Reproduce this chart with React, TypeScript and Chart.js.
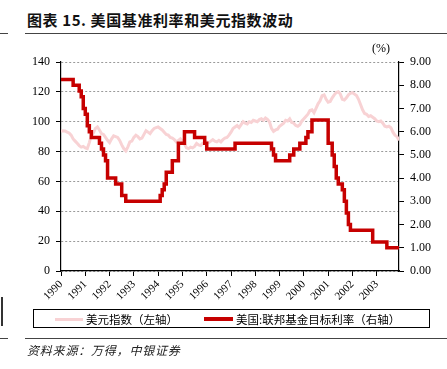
import React, { useEffect, useRef } from "react";
import { Chart, registerables } from "chart.js";

Chart.register(...registerables);

const YEARS = [1990, 1991, 1992, 1993, 1994, 1995, 1996, 1997, 1998, 1999, 2000, 2001, 2002, 2003];
const YEAR_LABELS = YEARS.map((y) => String(y));

// US Dollar Index, monthly, Jan 1990 .. Dec 2003 (left axis)
const DXY_1990 = [93.5, 94.0, 93.8, 93.0, 92.5, 91.0, 88.5, 87.0, 85.5, 84.0, 83.0, 83.5];
const DXY_1991 = [82.5, 82.0, 86.0, 91.0, 92.5, 95.5, 96.5, 94.5, 92.0, 91.5, 89.5, 87.5];
const DXY_1992 = [86.0, 88.5, 90.5, 90.0, 89.5, 87.5, 84.5, 82.0, 80.5, 83.0, 86.5, 87.0];
const DXY_1993 = [89.5, 91.0, 90.0, 88.5, 89.0, 91.5, 94.0, 93.0, 92.0, 94.0, 95.5, 96.0];
const DXY_1994 = [96.5, 95.5, 94.5, 93.0, 91.5, 91.0, 89.5, 89.0, 88.0, 86.5, 87.5, 88.5];
const DXY_1995 = [87.0, 85.0, 82.5, 82.0, 83.0, 82.5, 83.5, 85.5, 84.5, 84.0, 85.5, 86.0];
const DXY_1996 = [86.5, 86.0, 87.0, 88.0, 87.0, 86.5, 87.5, 86.5, 88.0, 89.0, 89.5, 91.0];
const DXY_1997 = [93.0, 95.5, 96.5, 97.5, 96.0, 98.0, 100.0, 99.0, 98.5, 100.0, 99.5, 101.0];
const DXY_1998 = [100.5, 100.0, 101.5, 102.0, 101.0, 102.5, 101.5, 100.0, 95.5, 93.5, 94.5, 95.0];
const DXY_1999 = [97.0, 98.0, 99.0, 101.0, 100.5, 102.0, 99.5, 99.0, 97.5, 97.0, 98.0, 100.5];
const DXY_2000 = [102.0, 103.5, 105.0, 107.5, 108.0, 106.0, 109.0, 112.0, 114.0, 117.5, 118.0, 115.0];
const DXY_2001 = [113.0, 113.5, 116.0, 118.0, 119.5, 120.0, 118.5, 115.0, 114.5, 116.0, 118.0, 119.0];
const DXY_2002 = [119.5, 118.5, 117.5, 115.0, 111.5, 108.0, 105.5, 105.0, 103.5, 104.0, 103.0, 102.0];
const DXY_2003 = [100.5, 100.0, 100.5, 99.0, 97.0, 96.5, 97.0, 96.0, 93.0, 91.0, 90.0, 87.5];

// Fed funds target rate, monthly (right axis, %)
const FED_1990 = [8.25, 8.25, 8.25, 8.25, 8.25, 8.25, 8.0, 8.0, 8.0, 7.75, 7.5, 7.0];
const FED_1991 = [6.75, 6.25, 6.0, 5.75, 5.75, 5.75, 5.75, 5.5, 5.25, 5.0, 4.75, 4.0];
const FED_1992 = [4.0, 4.0, 4.0, 3.75, 3.75, 3.75, 3.25, 3.25, 3.0, 3.0, 3.0, 3.0];
const FED_1993 = [3.0, 3.0, 3.0, 3.0, 3.0, 3.0, 3.0, 3.0, 3.0, 3.0, 3.0, 3.0];
const FED_1994 = [3.0, 3.25, 3.5, 3.75, 4.25, 4.25, 4.25, 4.75, 4.75, 4.75, 5.5, 5.5];
const FED_1995 = [5.5, 6.0, 6.0, 6.0, 6.0, 6.0, 5.75, 5.75, 5.75, 5.75, 5.75, 5.5];
const FED_1996 = [5.25, 5.25, 5.25, 5.25, 5.25, 5.25, 5.25, 5.25, 5.25, 5.25, 5.25, 5.25];
const FED_1997 = [5.25, 5.25, 5.5, 5.5, 5.5, 5.5, 5.5, 5.5, 5.5, 5.5, 5.5, 5.5];
const FED_1998 = [5.5, 5.5, 5.5, 5.5, 5.5, 5.5, 5.5, 5.5, 5.25, 5.0, 4.75, 4.75];
const FED_1999 = [4.75, 4.75, 4.75, 4.75, 4.75, 5.0, 5.0, 5.25, 5.25, 5.25, 5.5, 5.5];
const FED_2000 = [5.5, 5.75, 6.0, 6.0, 6.5, 6.5, 6.5, 6.5, 6.5, 6.5, 6.5, 6.5];
const FED_2001 = [5.5, 5.5, 5.0, 4.5, 4.0, 3.75, 3.75, 3.5, 3.0, 2.5, 2.0, 1.75];
const FED_2002 = [1.75, 1.75, 1.75, 1.75, 1.75, 1.75, 1.75, 1.75, 1.75, 1.75, 1.25, 1.25];
const FED_2003 = [1.25, 1.25, 1.25, 1.25, 1.25, 1.0, 1.0, 1.0, 1.0, 1.0, 1.0, 1.0];

const DXY = [
  ...DXY_1990, ...DXY_1991, ...DXY_1992, ...DXY_1993, ...DXY_1994, ...DXY_1995, ...DXY_1996,
  ...DXY_1997, ...DXY_1998, ...DXY_1999, ...DXY_2000, ...DXY_2001, ...DXY_2002, ...DXY_2003,
];
const FED = [
  ...FED_1990, ...FED_1991, ...FED_1992, ...FED_1993, ...FED_1994, ...FED_1995, ...FED_1996,
  ...FED_1997, ...FED_1998, ...FED_1999, ...FED_2000, ...FED_2001, ...FED_2002, ...FED_2003,
];

const TITLE = "图表 15. 美国基准利率和美元指数波动";
const LEGEND_DXY = "美元指数（左轴）";
const LEGEND_FED = "美国:联邦基金目标利率（右轴）";
const SOURCE = "资料来源：万得，中银证券";

const PINK = "#f8d2d4";
const RED = "#c60000";
const SERIF = "'Liberation Serif', 'Times New Roman', serif";
const CJK = "'Noto Sans CJK SC', sans-serif";

export default function App() {
  const canvasRef = useRef<HTMLCanvasElement | null>(null);

  useEffect(() => {
    if (!canvasRef.current) return;
    const xs = DXY.map((_, i) => YEARS[0] + i / 12);
    const tickFont = { family: SERIF, size: 12 };
    const chart = new Chart(canvasRef.current, {
      type: "line",
      data: {
        datasets: [
          {
            label: LEGEND_FED,
            data: FED.map((v, i) => ({ x: xs[i], y: v })),
            yAxisID: "y1",
            borderColor: RED,
            borderWidth: 3.5,
            pointRadius: 0,
            stepped: true,
            borderJoinStyle: "miter",
          },
          {
            label: LEGEND_DXY,
            data: DXY.map((v, i) => ({ x: xs[i], y: v })),
            yAxisID: "y",
            borderColor: PINK,
            borderWidth: 3,
            pointRadius: 0,
            tension: 0,
          },
        ],
      },
      options: {
        animation: false,
        responsive: false,
        devicePixelRatio: 1,
        layout: { padding: { top: 62, left: 0, right: 0, bottom: 0 } },
        plugins: { legend: { display: false }, tooltip: { enabled: false } },
        scales: {
          x: {
            type: "linear",
            min: xs[0],
            max: xs[xs.length - 1],
            afterBuildTicks: (scale: any) => {
              scale.ticks = YEARS.map((v) => ({ value: v }));
            },
            afterFit: (scale: any) => {
              scale.height = 34;
            },
            ticks: {
              autoSkip: false,
              minRotation: 45,
              maxRotation: 45,
              padding: 2,
              color: "#000",
              font: { family: SERIF, size: 11 },
              callback: (v: any) => {
                const idx = YEARS.indexOf(Math.round(Number(v)));
                return idx >= 0 ? YEAR_LABELS[idx] : "";
              },
            },
            grid: {
              drawOnChartArea: false,
              drawTicks: true,
              tickLength: 5,
              tickColor: "#000",
              tickWidth: 1,
            },
            border: { color: "#000", width: 1.2 },
          },
          y: {
            position: "left",
            min: 0,
            max: 140,
            afterFit: (scale: any) => {
              scale.width = 61;
            },
            ticks: { stepSize: 20, color: "#000", font: tickFont, padding: 6 },
            grid: {
              color: "#9a9a9a",
              lineWidth: 1,
              tickLength: 5,
              tickColor: "#000",
              tickWidth: 1,
              tickBorderDash: [],
            },
            border: { color: "#000", width: 1.2, dash: [2, 2] },
          },
          y1: {
            position: "right",
            min: 0,
            max: 9,
            afterFit: (scale: any) => {
              scale.width = 48;
            },
            ticks: {
              stepSize: 1,
              color: "#000",
              font: tickFont,
              padding: 6,
              callback: (v: any) => Number(v).toFixed(2),
            },
            grid: {
              drawOnChartArea: false,
              tickLength: 5,
              tickColor: "#000",
              tickWidth: 1,
            },
            border: { color: "#000", width: 1.2 },
          },
        },
      },
    } as any);
    return () => chart.destroy();
  }, []);

  const lineStyle = (top: number, left: number, width: number): React.CSSProperties => ({
    position: "absolute",
    top,
    left,
    width,
    height: 0,
    borderTop: "1.5px solid #444",
  });

  return (
    <div style={{ position: "fixed", left: 0, top: 0, width: 447, height: 369, background: "#fff", overflow: "hidden" }}>
      <div
        style={{
          position: "absolute",
          left: 27,
          top: 9,
          fontFamily: CJK,
          fontWeight: 700,
          fontSize: 15,
          letterSpacing: 0.6,
          color: "#111",
          whiteSpace: "nowrap",
          lineHeight: "22px",
        }}
      >
        {TITLE}
      </div>
      <div style={lineStyle(33, 0, 8)} />
      <div style={lineStyle(33, 25, 422)} />
      <canvas ref={canvasRef} width={447} height={305} style={{ position: "absolute", left: 0, top: 0 }} />
      <div
        style={{
          position: "absolute",
          left: 372,
          top: 41,
          fontFamily: SERIF,
          fontSize: 12,
          color: "#000",
          whiteSpace: "nowrap",
        }}
      >
        (%)
      </div>
      <div
        style={{
          position: "absolute",
          left: 33,
          top: 309,
          width: 397,
          height: 19,
          border: "1px solid #000",
          boxSizing: "border-box",
        }}
      />
      <div style={{ position: "absolute", left: 55, top: 317.5, width: 28, height: 3, background: PINK }} />
      <div
        style={{
          position: "absolute",
          left: 86,
          top: 310,
          fontFamily: CJK,
          fontSize: 11.5,
          lineHeight: "18px",
          color: "#000",
          whiteSpace: "nowrap",
        }}
      >
        {LEGEND_DXY}
      </div>
      <div style={{ position: "absolute", left: 204, top: 317, width: 29, height: 4, background: RED }} />
      <div
        style={{
          position: "absolute",
          left: 236,
          top: 310,
          fontFamily: CJK,
          fontSize: 11.5,
          lineHeight: "18px",
          color: "#000",
          whiteSpace: "nowrap",
        }}
      >
        {LEGEND_FED}
      </div>
      <div style={{ position: "absolute", left: 1, top: 297, width: 1.5, height: 29, background: "#333" }} />
      <div style={lineStyle(338, 0, 8)} />
      <div style={lineStyle(338, 25, 422)} />
      <div
        style={{
          position: "absolute",
          left: 27,
          top: 341,
          fontFamily: CJK,
          fontStyle: "italic",
          fontSize: 12,
          letterSpacing: 0.8,
          lineHeight: "18px",
          color: "#222",
          whiteSpace: "nowrap",
        }}
      >
        {SOURCE}
      </div>
    </div>
  );
}
